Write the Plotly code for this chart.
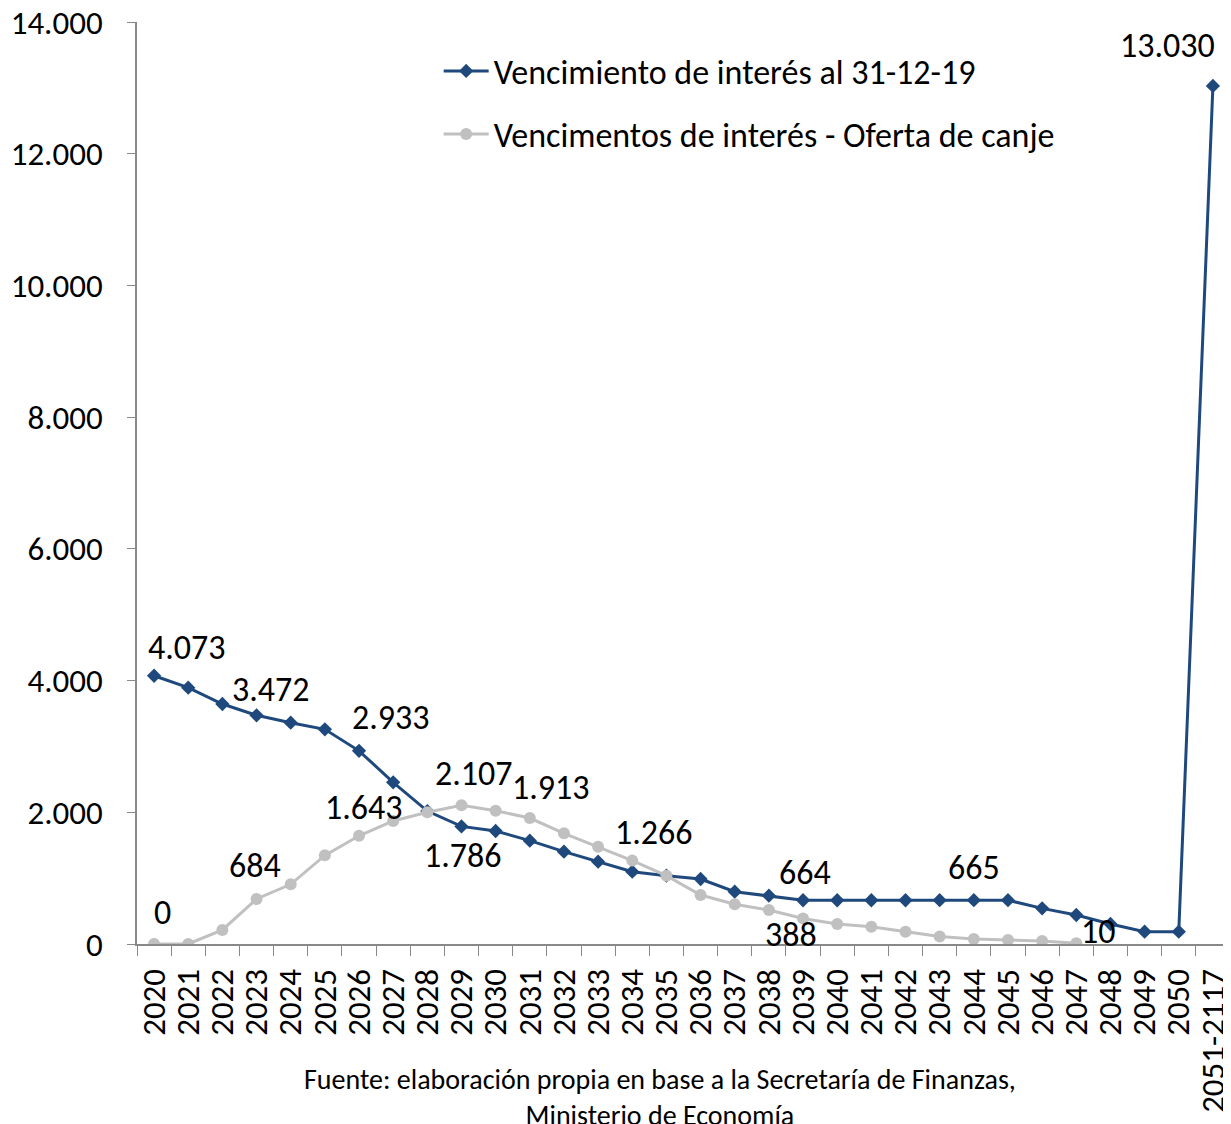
import plotly.graph_objects as go

years = [str(y) for y in range(2020, 2051)] + ['2051-2117']

vencimiento_3112 = [4073, 3892, 3644, 3472, 3360, 3260, 2933, 2455, 2019, 1786,
                    1716, 1569, 1402, 1250, 1098, 1037, 987, 794, 734, 664,
                    664, 664, 664, 665, 665, 665, 541, 440, 304, 187,
                    187, 13030]

oferta_canje = [0, 0, 213, 684, 906, 1346, 1643, 1868, 2000, 2107,
                2024, 1913, 1681, 1478, 1266, 1037, 744, 603, 516, 388,
                304, 263, 187, 115, 76, 61, 46, 10,
                None, None, None, None]

# which points get a value label, and where it sits (pixel shift from the point)
blue_labels = {0: (33, -28), 3: (14, -26), 6: (32, -33), 9: (2, 29),
               19: (2, -28), 24: (0, -33), 31: (-45, -40)}
gray_labels = {0: (8, -32), 3: (-2, -33), 6: (5, -28), 9: (13, -32),
               11: (21, -31), 14: (22, -28), 19: (-12, 16), 27: (22, -12)}

BLUE = '#1F497D'
GRAY = '#C0C0C0'
FONT = 'Carlito, Noto Sans, sans-serif'


def fmt(v):
    return '{:,}'.format(v).replace(',', '.')


fig = go.Figure()
fig.add_trace(go.Scatter(name='Vencimiento de interés al 31-12-19',
                         x=years, y=vencimiento_3112,
                         mode='lines+markers',
                         line=dict(color=BLUE, width=3),
                         marker=dict(symbol='diamond', size=11, color=BLUE),
                         legendgroup='a'))
fig.add_trace(go.Scatter(name='Vencimentos de interés - Oferta de canje',
                         x=years, y=oferta_canje,
                         mode='lines+markers',
                         line=dict(color=GRAY, width=3),
                         marker=dict(symbol='circle', size=12, color=GRAY),
                         legendgroup='b'))

annotations = []
for series, labels in ((vencimiento_3112, blue_labels), (oferta_canje, gray_labels)):
    for idx, (dx, dy) in labels.items():
        # numeric x = category index (year strings would be read as numbers)
        annotations.append(dict(x=idx, y=series[idx], text=fmt(series[idx]),
                                showarrow=False, xshift=dx, yshift=-dy,
                                font=dict(size=34, color='black', family=FONT)))

annotations.append(dict(xref='paper', yref='paper', x=0.4785, y=-0.166,
                        text='Fuente: elaboración propia en base a la Secretaría de Finanzas,<br>'
                             'Ministerio de Economía',
                        showarrow=False, align='center', yanchor='middle',
                        font=dict(size=28, color='black', family=FONT)))

yticks = [0, 2000, 4000, 6000, 8000, 10000, 12000, 14000]

# the page body has an 8px margin, so the figure is sized/offset for it
fig.update_layout(
    width=1223, height=1116,
    margin=dict(l=129, r=1, t=14, b=180),
    paper_bgcolor='white', plot_bgcolor='white',
    font=dict(family=FONT, color='black'),
    showlegend=True,
    legend=dict(x=0.276, y=0.978, xanchor='left', yanchor='top',
                font=dict(size=34, color='black'),
                itemwidth=45,
                tracegroupgap=16, bgcolor='rgba(0,0,0,0)'),
    annotations=annotations,
    xaxis=dict(type='category', range=[-0.5, 31.5], automargin=False,
               tickmode='linear', tick0=0, dtick=1,
               showline=True, linecolor='#898989', linewidth=1.5,
               ticks='outside', tickson='boundaries', ticklen=10,
               tickcolor='#898989', tickangle=-90,
               tickfont=dict(size=33, color='black'),
               ticklabelstandoff=10, ticklabeloverflow='allow',
               showgrid=False, zeroline=False),
    yaxis=dict(range=[0, 14000], automargin=False,
               tickvals=yticks, ticktext=[fmt(v) for v in yticks],
               showline=True, linecolor='#898989', linewidth=1.5,
               ticks='outside', ticklen=8, tickcolor='#898989',
               tickfont=dict(size=33, color='black'),
               ticklabelstandoff=18, ticklabeloverflow='allow',
               showgrid=False, zeroline=False),
)

fig.write_html("out.html")
